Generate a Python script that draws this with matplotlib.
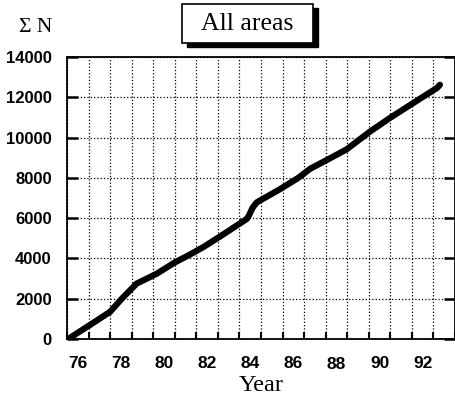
import numpy as np
import matplotlib
matplotlib.use('Agg')
import matplotlib.pyplot as plt
from matplotlib.patches import Rectangle

# cumulative count
years = [75.55, 76.57, 77.5, 78.04, 78.73, 79.66, 80.5, 81.13, 81.82, 82.6,
         83.84, 83.95, 84.1, 84.3, 85.4, 86.23, 86.78, 87.7, 88.48, 89.56,
         90.49, 91.57, 92.66, 92.8]
total = [0, 700, 1350, 2000, 2750, 3240, 3800, 4150, 4560, 5090,
         5960, 6150, 6500, 6780, 7450, 8000, 8450, 8970, 9420, 10300,
         10980, 11720, 12460, 12620]

ytick_vals = [0, 2000, 4000, 6000, 8000, 10000, 12000, 14000]
year_labels = [76, 78, 80, 82, 84, 86, 88, 90, 92]

fig = plt.figure(figsize=(4.56, 4.01), dpi=100)
ax = fig.add_axes([67/456, 62/401, 388/456, 282/401])

ax.plot(years, total, color='black', lw=4.5, solid_capstyle='round', solid_joinstyle='round')

ax.set_xlim(75.5, 93.5)
ax.set_ylim(0, 14000)

# gridlines on year boundaries, labels centred in each year
ax.set_xticks(np.arange(75.5, 93.6, 1.0))
ax.set_xticklabels([])
ax.set_xticks(year_labels, minor=True)
ax.set_xticklabels([str(y) for y in year_labels], minor=True,
                   fontsize=12.5, fontweight='bold', family='Liberation Sans')
ax.tick_params(axis='x', which='minor', length=0, pad=12)
ax.tick_params(axis='x', which='major', direction='in', length=5, width=1.5)
# the 88 sits a little lower in the original
ax.xaxis.get_minor_ticks()[6].label1.set_y(-0.005)

ax.set_yticks(ytick_vals)
ax.set_yticklabels([str(v) for v in ytick_vals], fontsize=12,
                   fontweight='bold', family='Liberation Sans')
ax.tick_params(axis='y', direction='in', length=8, width=1.8, right=True, pad=11)

ax.grid(True, which='major', color='black', linestyle=':', lw=0.9)
for s in ax.spines.values():
    s.set_linewidth(1.3)

ax.set_xlabel('Year', fontsize=17.5, family='Liberation Serif', labelpad=2)

# sigma label
fig.text(36/456, 1 - 28/401, 'Σ N', fontsize=15.5, family='Liberation Serif',
         ha='center', va='center')

# title box with shadow
bx, by, bw, bh = 182, 4, 131, 39
fig.add_artist(Rectangle(((bx + 5)/456, 1 - (by + bh + 4)/401), bw/456, bh/401,
                         transform=fig.transFigure, facecolor='black', edgecolor='black'))
fig.add_artist(Rectangle((bx/456, 1 - (by + bh)/401), bw/456, bh/401,
                         transform=fig.transFigure, facecolor='white', edgecolor='black', lw=1.2))
fig.text((bx + bw/2)/456, 1 - (by + bh/2)/401, 'All areas', fontsize=18.5,
         family='Liberation Serif', ha='center', va='center')

fig.savefig('out.png', dpi=100)
